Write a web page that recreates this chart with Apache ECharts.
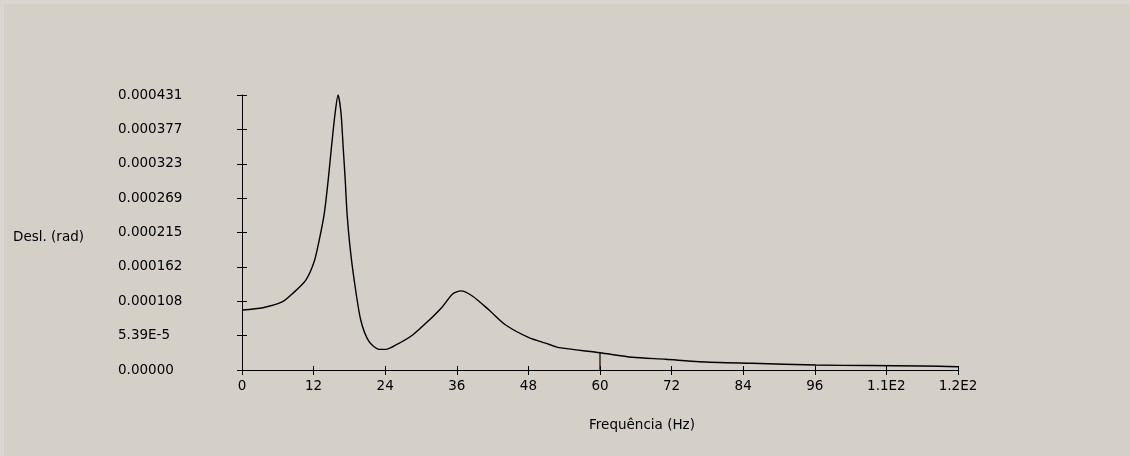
<!DOCTYPE html>
<html>
<head>
<meta charset="utf-8">
<script src="https://cdn.jsdelivr.net/npm/echarts@6/dist/echarts.min.js"></script>
<style>
  html, body { margin: 0; padding: 0; background: #d4d0c8; }
  #chart { width: 1130px; height: 456px; }
</style>
</head>
<body>
<div id="chart"></div>
<script>
// Frequency response: rotational displacement vs. excitation frequency
const freqHz = [0, 3.5, 6.8, 8.5, 10.7, 12.1, 12.95, 13.8, 14.45, 15.0, 15.6, 16.1,
  16.6, 16.95, 17.3, 17.6, 18.1, 18.8, 19.9, 21.3, 23.0, 24.1, 25.8, 28.6, 31.4,
  33.6, 35.3, 36.7, 38.6, 41.4, 44.2, 48.0, 51.5, 53.1, 60, 65.4, 71.0, 76.6, 85.5,
  96.2, 105, 114, 120];
const displRad = [94e-6, 97.6e-6, 107e-6, 120e-6, 141e-6, 170e-6, 204e-6, 246e-6,
  298e-6, 350e-6, 402e-6, 431e-6, 402e-6, 350e-6, 298e-6, 246e-6, 193e-6, 141e-6,
  78.4e-6, 44.4e-6, 32.4e-6, 32.4e-6, 39.2e-6, 54.9e-6, 78.4e-6, 99.2e-6, 119e-6,
  124e-6, 116e-6, 94e-6, 70.5e-6, 51.2e-6, 40e-6, 35e-6, 27e-6, 19.9e-6, 16.8e-6,
  13e-6, 10.5e-6, 7.8e-6, 7e-6, 6.3e-6, 5.2e-6];

// Marker drawn at the operating frequency
const markerFreq = [60, 60];
const markerDispl = [0, 27e-6];

const yTickLabels = ['0.00000', '5.39E-5', '0.000108', '0.000162', '0.000215',
  '0.000269', '0.000323', '0.000377', '0.000431'];
const xTickLabels = ['0', '12', '24', '36', '48', '60', '72', '84', '96', '1.1E2', '1.2E2'];

const yMax = 0.000431;
const yStep = yMax / 8;
const xMax = 120;
const xStep = 12;

const FONT = 'DejaVu Sans';
const FS = 13.5;
const INK = '#000000';

const curve = freqHz.map((f, i) => [f, displRad[i]]);
const marker = markerFreq.map((f, i) => [f, markerDispl[i]]);

const yLabel = v => yTickLabels[Math.round(v / yStep)] ?? '';
const xLabel = v => xTickLabels[Math.round(v / xStep)] ?? '';

const axisCommonX = { type: 'value', min: 0, max: xMax, interval: xStep, position: 'bottom' };
const axisCommonY = { type: 'value', min: 0, max: yMax, interval: yStep, position: 'left' };

const chart = echarts.init(document.getElementById('chart'), null, { renderer: 'canvas' });
chart.setOption({
  backgroundColor: '#d4d0c8',
  animation: false,
  grid: { left: 242, right: 172, top: 95, bottom: 86, containLabel: false },
  xAxis: [
    Object.assign({}, axisCommonX, {
      axisLine: { show: true, lineStyle: { color: INK, width: 1 } },
      axisTick: { show: true, inside: false, length: 5, lineStyle: { color: INK, width: 1 } },
      axisLabel: { show: true, margin: 9, color: INK, fontFamily: FONT, fontSize: FS, formatter: xLabel },
      splitLine: { show: false }
    }),
    Object.assign({}, axisCommonX, {
      axisLine: { show: false },
      axisTick: { show: true, inside: true, length: 4, lineStyle: { color: INK, width: 1 } },
      axisLabel: { show: false },
      splitLine: { show: false }
    })
  ],
  yAxis: [
    Object.assign({}, axisCommonY, {
      axisLine: { show: true, lineStyle: { color: INK, width: 1 } },
      axisTick: { show: true, inside: false, length: 5, lineStyle: { color: INK, width: 1 } },
      axisLabel: { show: true, margin: 124, align: 'left', padding: [4, 0, 0, 0], color: INK, fontFamily: FONT, fontSize: FS, formatter: yLabel },
      splitLine: { show: false }
    }),
    Object.assign({}, axisCommonY, {
      axisLine: { show: false },
      axisTick: { show: true, inside: true, length: 5, lineStyle: { color: INK, width: 1 } },
      axisLabel: { show: false },
      splitLine: { show: false }
    })
  ],
  series: [
    {
      name: 'Desl.',
      type: 'line',
      data: curve,
      showSymbol: false,
      smooth: 0.25,
      lineStyle: { color: INK, width: 1.4 },
      silent: true
    },
    {
      name: 'f = 60 Hz',
      type: 'line',
      data: marker,
      showSymbol: false,
      lineStyle: { color: INK, width: 1.2 },
      silent: true
    }
  ],
  graphic: [
    { type: 'rect', shape: { x: 0, y: 0, width: 1130, height: 4 }, style: { fill: '#dad7d1' }, silent: true },
    { type: 'rect', shape: { x: 0, y: 0, width: 4, height: 456 }, style: { fill: '#dad7d1' }, silent: true },
    {
      type: 'text', x: 13, y: 237,
      style: { text: 'Desl. (rad)', fill: INK, font: FS + 'px "' + FONT + '"', verticalAlign: 'middle', align: 'left' }
    },
    {
      type: 'text', x: 642, y: 425,
      style: { text: 'Frequência (Hz)', fill: INK, font: FS + 'px "' + FONT + '"', verticalAlign: 'middle', align: 'center' }
    }
  ]
});
</script>
</body>
</html>
